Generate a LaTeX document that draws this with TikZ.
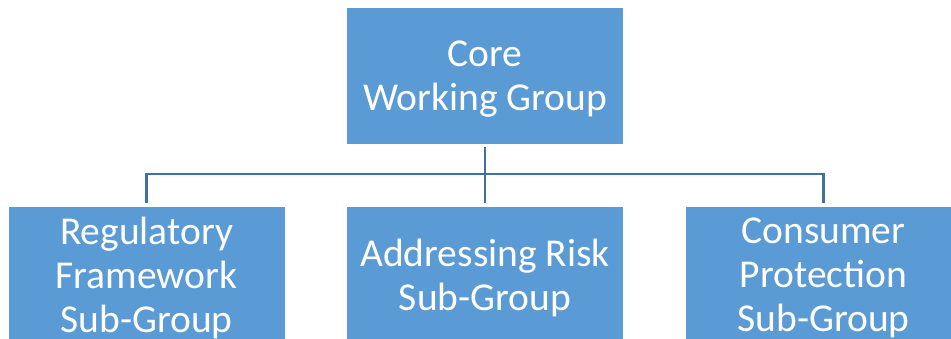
\documentclass[tikz,border=0pt]{standalone}
\usepackage{fontspec}
\setmainfont{Carlito}
\definecolor{boxblue}{HTML}{5B9BD5}
\definecolor{linkblue}{HTML}{41719C}
\begin{document}
\begin{tikzpicture}[x=1pt,y=-1pt,
  orgbox/.style={rectangle, fill=boxblue, draw=white, line width=0.8pt,
    minimum width=277pt, minimum height=137pt, inner sep=0pt, text depth=0pt,
    text=white, align=center, font=\fontsize{39.5}{44}\selectfont},
  link/.style={draw=linkblue, line width=2.6pt, shorten <=3pt, shorten >=3pt}]
  \useasboundingbox (0,0) rectangle (951,339);
  \clip (0,0) rectangle (951,339);
  % top-level group
  \node[orgbox] (core) at (485,75.5) {Core\\Working Group};
  % sub-groups
  \node[orgbox] (reg)  at (146.5,274.5) {Regulatory\\Framework\\Sub-Group};
  \node[orgbox] (risk) at (485,274.5) {Addressing Risk\\Sub-Group};
  \node[orgbox] (cons) at (823.5,274.5) {Consumer\\Protection\\Sub-Group};
  % branch level of the tree
  \coordinate (bus) at (485,174);
  \draw[link] (core.south) -- (risk.north);
  \draw[link, shorten <=0pt] (bus) -| (reg.north);
  \draw[link, shorten <=0pt] (bus) -| (cons.north);
\end{tikzpicture}
\end{document}
